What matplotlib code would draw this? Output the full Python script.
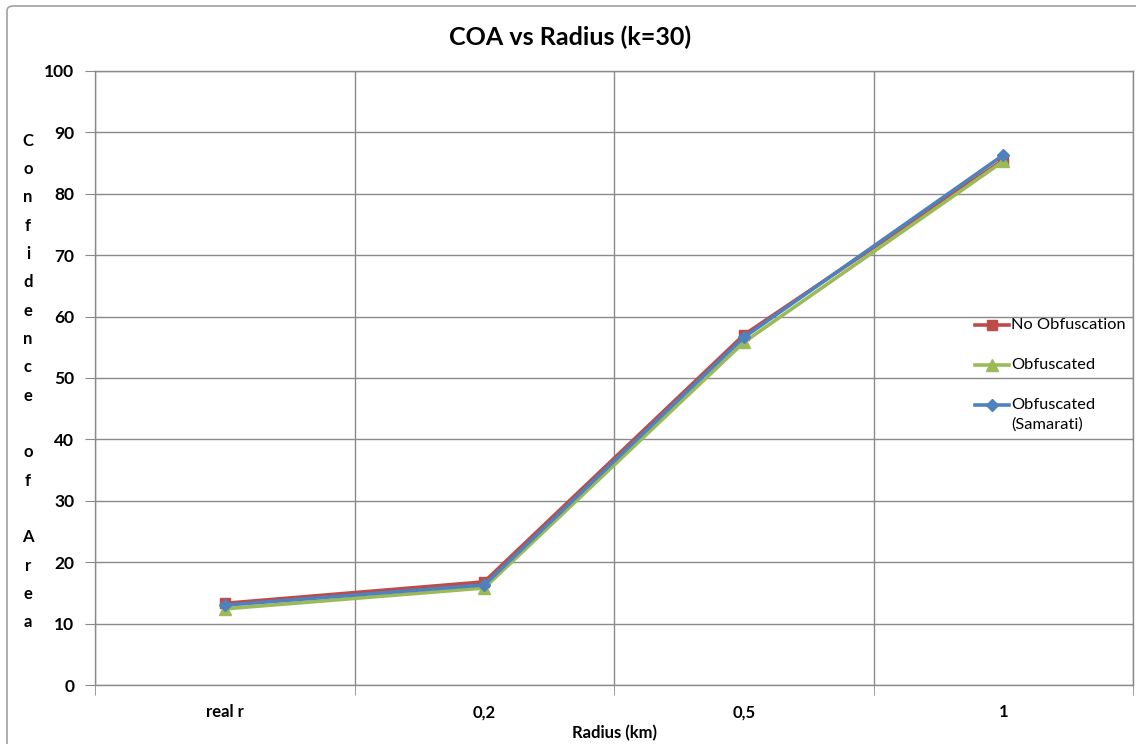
import matplotlib
matplotlib.use("Agg")
import matplotlib.pyplot as plt
from matplotlib.patches import FancyBboxPatch
from matplotlib.lines import Line2D
import numpy as np

# Data
categories = ["real r", "0,2", "0,5", "1"]
no_obfuscation = [13.3, 16.8, 57.0, 85.5]
obfuscated = [12.4, 15.8, 55.8, 85.3]
obfuscated_samarati = [13.0, 16.3, 56.6, 86.3]
series_names = ["No Obfuscation", "Obfuscated", "Obfuscated\n(Samarati)"]
yticks = [0, 10, 20, 30, 40, 50, 60, 70, 80, 90, 100]

colors = ["#BE4B48", "#9BBB59", "#4F81BD"]
markers = ["s", "^", "D"]
msizes = [7.5, 8, 6.5]

plt.rcParams['font.family'] = ['Lato', 'DejaVu Sans']

W, H = 1136, 744
fig = plt.figure(figsize=(W / 100, H / 100), dpi=100)
fig.patch.set_facecolor("white")

# Outer chart frame
frame = FancyBboxPatch((7 / W, -0.05), 1.2, 1.05 - 6 / H,
                       boxstyle="round,pad=0,rounding_size=0.006",
                       transform=fig.transFigure, fill=False,
                       edgecolor="#a0a0a0", linewidth=1.2)
fig.patches.append(frame)

ax = fig.add_axes([95 / W, 1 - 685 / H, (1133 - 95) / W, (685 - 71) / H])

x = np.arange(len(categories))
grid_c = "#8a8a8a"

for vals, c, m, ms, z in zip([no_obfuscation, obfuscated, obfuscated_samarati],
                             colors, markers, msizes, [3, 3, 4]):
    ax.plot(x, vals, color=c, lw=2.6, marker=m, ms=ms, zorder=z)

ax.set_xlim(-0.5, len(categories) - 0.5)
ax.set_ylim(0, 100)
ax.set_yticks(yticks)
ax.set_yticklabels([str(v) for v in yticks], fontsize=12.5, fontweight="bold")

ax.set_xticks(x)
ax.set_xticklabels(categories, fontsize=12, fontweight="bold")
ax.tick_params(axis="x", which="major", length=0, pad=14)
ax.set_xticks(np.arange(-0.5, len(categories)), minor=True)
ax.tick_params(axis="x", which="minor", length=7, color=grid_c, direction="out")
ax.tick_params(axis="y", length=7, color=grid_c, direction="out", pad=8)

ax.grid(True, which="minor", axis="x", color=grid_c, lw=1)
ax.grid(True, which="major", axis="y", color=grid_c, lw=1)
for s in ax.spines.values():
    s.set_color(grid_c)
    s.set_linewidth(1)

ax.set_xlabel("Radius (km)", fontsize=12, fontweight="bold", labelpad=3)

ylab = "\n".join(list("Confidence")) + "\n\n" + "\n".join(list("of")) + "\n\n" + "\n".join(list("Area"))
fig.text(28 / W, 1 - 381.5 / H, ylab, ha="center", va="center",
         fontsize=12, fontweight="bold", linespacing=1.95)

fig.text(570 / W, 1 - 37 / H, "COA vs Radius (k=30)", ha="center", va="center",
         fontsize=18, fontweight="bold")

# Legend entries on the right side of the plot area
legend_y = [325, 365, 405]
for name, c, m, ms, yy in zip(series_names, colors, markers, msizes, legend_y):
    yf = 1 - yy / H
    fig.add_artist(Line2D([975 / W, 1009 / W], [yf, yf], color=c, lw=2.6,
                          transform=fig.transFigure))
    fig.add_artist(Line2D([992 / W], [yf], color=c, marker=m, ms=ms,
                          transform=fig.transFigure))
    fig.text(1011 / W, yf + 7 / H, name, ha="left", va="top", fontsize=11.8,
             linespacing=1.5)

fig.savefig("out.png", dpi=100)
